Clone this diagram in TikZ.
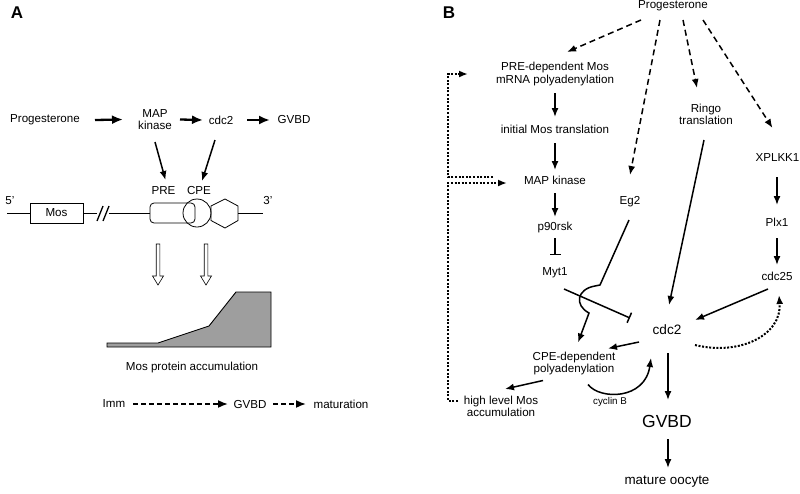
\documentclass[tikz,border=0pt]{standalone}
\usepackage{fontspec}
\setmainfont{Liberation Sans}
\usetikzlibrary{arrows.meta,calc}

\begin{document}
\begin{tikzpicture}[x=1pt,y=-1pt,
    every node/.style={font=\fontsize{11.6}{12.5}\selectfont, align=center, inner sep=0pt},
    arr/.style={-{Latex[length=9pt,width=7pt]}, line width=1.5pt},
    harr/.style={-{Latex[length=11pt,width=9pt]}, line width=2.3pt},
    darr/.style={arr, dash pattern=on 6pt off 4pt},
    ldarr/.style={-{Latex[length=10pt,width=8pt]}, line width=1.7pt, dash pattern=on 5pt off 3pt},
    dotarr/.style={-{Latex[length=9pt,width=7pt]}, line width=2pt, dash pattern=on 2pt off 1.6pt},
    inh/.style={-{Bar[width=11pt]}, line width=1.5pt},
    gene/.style={line width=0.8pt}]
\useasboundingbox (0,0) rectangle (800,493);

% panel A
\node[font=\bfseries\fontsize{17}{17}\selectfont] (labA) at (17,13) {A};
\node (progA) at (45,120) {Progesterone};
\node (mapA) at (155,119.5) {MAP\\kinase};
\node (cdcA) at (221,120) {cdc2};
\node (gvbdA) at (294,120) {GVBD};
\draw[harr] ($(progA)+(50,0)$) -- ($(mapA)+(-32,0)$);
\draw[harr] ($(mapA)+(25,0)$) -- ($(cdcA)+(-18,0)$);
\draw[harr] ($(cdcA)+(26,0)$) -- ($(gvbdA)+(-24,0)$);

\node (preL) at (163.5,191) {PRE};
\node (cpeL) at (199,191) {CPE};
\draw[arr] ($(mapA)+(0,22.5)$) -- ($(preL)+(2,-11)$);
\draw[arr] ($(cdcA)+(-6,20)$) -- ($(cpeL)+(3,-10)$);

% mos gene
\node (fiveP) at (10,201) {5’};
\node (threeP) at (268,201) {3’};
\node[draw, gene, minimum width=53pt, minimum height=20pt] (mos) at (56.5,213) {Mos};
\draw[gene] (7,213) -- (mos.west);
\draw[gene] (mos.east) -- (97,213);
\draw[line width=1.3pt] (97,221) -- (103,206) (103,221) -- (109,206);
\draw[gene] (109,213) -- (150,213);
\draw[gene, rounded corners=4pt] (150,203) rectangle (195,223);
\draw[gene] (197,213) circle[radius=14];
\draw[gene] (225,199) -- (238,206) -- (238,220.5) -- (225,228) -- (211,220.5) -- (211,206) -- cycle;
\draw[gene] (238,213) -- (263,213);

% open arrows
\foreach \x in {158,206}
    \draw[fill=white, line width=0.6pt] (\x-1.8,244) -- (\x+1.8,244) -- (\x+1.8,276) -- (\x+5.5,276)
        -- (\x,285) -- (\x-5.5,276) -- (\x-1.8,276) -- cycle;

\draw[fill=black!38, line width=0.9pt] (107,343) -- (158,343) -- (209,326) -- (236,292) -- (271,292)
    -- (271,347) -- (107,347) -- cycle;
\node (accA) at (192,367) {Mos protein accumulation};

\node (imm) at (114,404) {Imm};
\node (gvbdL) at (250,404) {GVBD};
\node (matL) at (341,404) {maturation};
\draw[ldarr] ($(imm)+(19,0)$) -- ($(gvbdL)+(-22,0)$);
\draw[ldarr] ($(gvbdL)+(23,0)$) -- ($(matL)+(-35,0)$);

% panel B
\node[font=\bfseries\fontsize{17}{17}\selectfont] (labB) at (449,13) {B};
\node (progB) at (673,6) {Progesterone};
\node (preB) at (555,74) {PRE-dependent Mos\\mRNA polyadenylation};
\node (initB) at (555,129) {initial Mos translation};
\node (mapB) at (555,180) {MAP kinase};
\node (p90B) at (555,227) {p90rsk};
\node (myt1B) at (555,273) {Myt1};
\node (eg2B) at (630,202) {Eg2};
\node (ringoB) at (706,114.5) {Ringo\\translation};
\node (xplB) at (777.5,158) {XPLKK1};
\node (plxB) at (777,222) {Plx1};
\node (cdc25B) at (777,276) {cdc25};
\node[font=\fontsize{13.6}{14}\selectfont] (cdc2B) at (667,330) {cdc2};
\node (cpeB) at (574,363.5) {CPE-dependent\\polyadenylation};
\node (highB) at (501,406.5) {high level Mos\\accumulation};
\node[font=\fontsize{9.8}{10}\selectfont] (cycB) at (610,402) {cyclin B};
\node[font=\fontsize{17.5}{18}\selectfont] (gvbdB) at (667,421) {GVBD};
\node[font=\fontsize{13.4}{14}\selectfont] (matB) at (667,482) {mature oocyte};

\draw[darr] ($(progB)+(-32,14)$) -- ($(preB)+(12,-22)$);
\draw[darr] ($(progB)+(-13,14)$) -- ($(eg2B)+(0,-27)$);
\draw[darr] ($(progB)+(10,14)$) -- ($(ringoB)+(-9,-26.5)$);
\draw[darr] ($(progB)+(30,14)$) -- ($(xplB)+(-5,-30)$);

\draw[arr] ($(preB)+(0,19)$) -- ($(initB)+(0,-12)$);
\draw[arr] ($(initB)+(0,14)$) -- ($(mapB)+(0,-10)$);
\draw[arr] ($(mapB)+(0,13)$) -- ($(p90B)+(0,-10)$);
\draw[inh] ($(p90B)+(0,11)$) -- ($(myt1B)+(0,-18)$);
\draw[arr] ($(xplB)+(-0.5,19)$) -- ($(plxB)+(0,-17)$);
\draw[arr] ($(plxB)+(0,16)$) -- ($(cdc25B)+(0,-11)$);
\draw[arr] ($(ringoB)+(-2,25.5)$) -- ($(cdc2B)+(2,-25)$);
\draw[arr] ($(cdc25B)+(-9,13)$) -- ($(cdc2B)+(28,-10)$);
\draw[inh] ($(myt1B)+(9,16)$) -- ($(cdc2B)+(-37,-12)$);

% Eg2 hops over the Myt1 line
\coordinate (hop1) at (600,285);
\coordinate (hop2) at (595,286);
\coordinate (hop3) at (589,313);
\draw[arr] ($(eg2B)+(-1,18)$) -- (hop1) -- (hop2) .. controls (577,289) and (574,305) .. (hop3)
    -- ($(cpeB)+(4,-21)$);

\draw[arr] ($(cdc2B)+(-28,12)$) -- ($(cpeB)+(34,-15)$);
\draw[arr] ($(cpeB)+(-31,17)$) -- ($(highB)+(4,-17.5)$);
\draw[arr] ($(cpeB)+(14,21)$) .. controls (600,400) and (645,400) .. ($(cdc2B)+(-16,28)$);
\draw[dotarr] ($(cdc2B)+(28,15)$) .. controls (740,356) and (782,335) .. ($(cdc25B)+(2,19)$);
\draw[arr] ($(cdc2B)+(1,23)$) -- ($(gvbdB)+(1,-21)$);
\draw[arr] ($(gvbdB)+(1,18)$) -- ($(matB)+(1,-14)$);

% feedback
\draw[dotarr] ($(mapB)+(-62,-3)$) -- ++(-45,0) |- ($(preB)+(-87,0)$);
\draw[dotarr] ($(highB)+(-43,-6)$) -- ++(-10,0) |- ($(mapB)+(-48,3)$);
\end{tikzpicture}
\end{document}
